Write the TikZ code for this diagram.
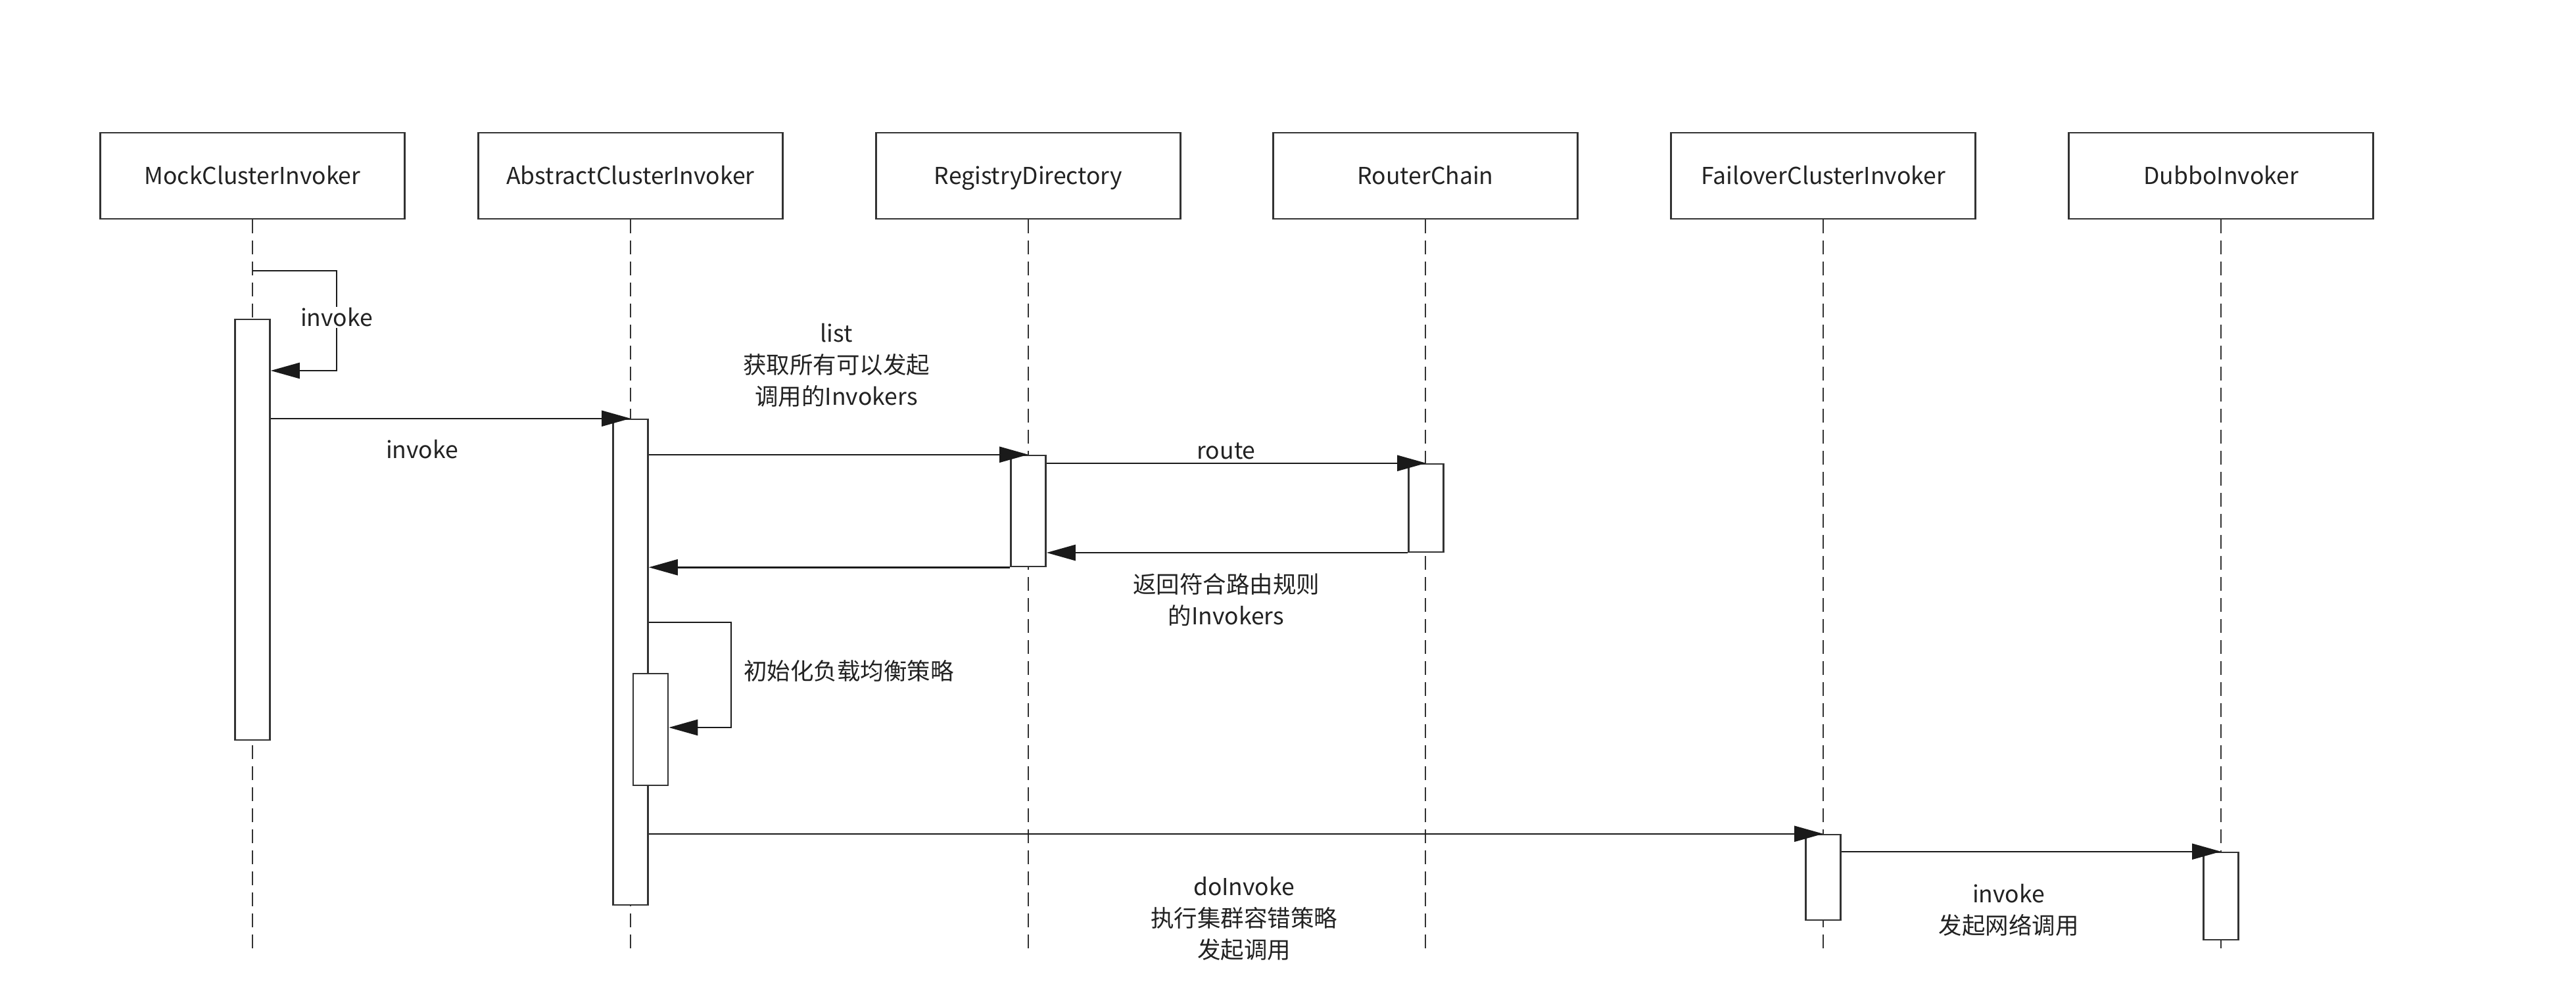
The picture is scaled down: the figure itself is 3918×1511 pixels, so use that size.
\documentclass[tikz,border=0pt]{standalone}
\usepackage{fontspec}
\setmainfont{Noto Sans CJK SC}
\usetikzlibrary{arrows.meta}
\definecolor{linec}{HTML}{333333}
\definecolor{textc}{HTML}{222222}
\definecolor{tipc}{HTML}{1A1A1A}
\tikzset{
  hdr/.style={draw=linec, line width=2.5pt, fill=white, minimum width=463pt, minimum height=131pt, inner sep=0pt, text=textc, font=\fontsize{35.5}{47}\selectfont, text height=26pt, text depth=0pt},
  actbox/.style={draw=linec, line width=2.5pt, fill=white, minimum width=53pt, inner sep=0pt},
  life/.style={draw=linec, line width=2.5pt, dash pattern=on 21pt off 11pt},
  msg/.style={draw=tipc, line width=2.5pt, -{Triangle[length=44pt,width=24pt]}},
  lbl/.style={text=textc, font=\fontsize{35.5}{48}\selectfont, align=center, inner sep=2pt},
}
\begin{document}
\begin{tikzpicture}[x=1pt,y=-1pt]
\useasboundingbox (0,0) rectangle (3918,1511);
\fill[white] (0,0) rectangle (3918,1511);
% headers
\node[hdr] (h1) at (384,267.5) {MockClusterInvoker};
\node[hdr] (h2) at (959,267.5) {AbstractClusterInvoker};
\node[hdr] (h3) at (1564,267.5) {RegistryDirectory};
\node[hdr] (h4) at (2168,267.5) {RouterChain};
\node[hdr] (h5) at (2773,267.5) {FailoverClusterInvoker};
\node[hdr] (h6) at (3378,267.5) {DubboInvoker};
% lifeline ends
\coordinate (e1) at (384,1445);
\coordinate (e2) at (959,1445);
\coordinate (e3) at (1564,1445);
\coordinate (e4) at (2168,1445);
\coordinate (e5) at (2773,1445);
\coordinate (e6) at (3378,1445);
\draw[life] (h1.south) -- (e1);
\draw[life] (h2.south) -- (e2);
\draw[life] (h3.south) -- (e3);
\draw[life] (h4.south) -- (e4);
\draw[life] (h5.south) -- (e5);
\draw[life] (h6.south) -- (e6);
% activations
\node[actbox, minimum height=640pt] (a1) at (384,806) {};
\node[actbox, minimum height=739pt] (a2) at (959,1007.5) {};
\node[actbox, minimum height=169pt] (a3) at (1564,777.5) {};
\node[actbox, minimum height=134pt] (a4) at (2169,773) {};
\node[actbox, minimum height=130pt] (a5) at (2773,1335) {};
\node[actbox, minimum height=133pt] (a6) at (3378,1363.5) {};
% self-call on MockClusterInvoker
\coordinate (s1a) at (512,412);
\coordinate (s1b) at (512,564);
\draw[msg] (h1.south |- s1a) -- (s1a) -- (s1b) -- (a1.east |- s1b);
\node[lbl, fill=white] (l1) at (512,483) {invoke};
% invoke Mock -> Abstract
\draw[msg] (a1.east |- a2.north) -- (a2.north);
\node[lbl] (l2) at (642,684) {invoke};
% list
\draw[msg] (a2.east |- a3.north) -- (a3.north);
\node[lbl] (l3) at (1272,556) {list\\获取所有可以发起\\调用的Invokers};
% route
\draw[msg] (a3.east |- a4.north) -- (a4.north);
\node[lbl] (l4) at (1865,686) {route};
% return from RouterChain
\draw[msg] (a4.west |- 0,841) -- (a3.east |- 0,841);
\node[lbl] (l5) at (1865,913) {返回符合路由规则\\的Invokers};
% return from RegistryDirectory
\draw[msg] (a3.south west) -- (a2.east |- a3.south);
% self-call on AbstractClusterInvoker
\node[actbox, minimum height=170pt] (a7) at (989.5,1110) {};
\coordinate (s2a) at (1112,947);
\coordinate (s2b) at (1112,1107);
\draw[msg] (a2.east |- s2a) -- (s2a) -- (s2b) -- (a7.east |- s2b);
\node[lbl, anchor=west] (l6) at (1129,1021) {初始化负载均衡策略};
% doInvoke
\draw[msg] (a2.east |- a5.north) -- (a5.north);
\node[lbl] (l7) at (1892,1398) {doInvoke\\执行集群容错策略\\发起调用};
% invoke Failover -> Dubbo
\draw[msg] (a5.east |- a6.north) -- (a6.north);
\node[lbl] (l8) at (3055,1385) {invoke\\发起网络调用};
\end{tikzpicture}
\end{document}
